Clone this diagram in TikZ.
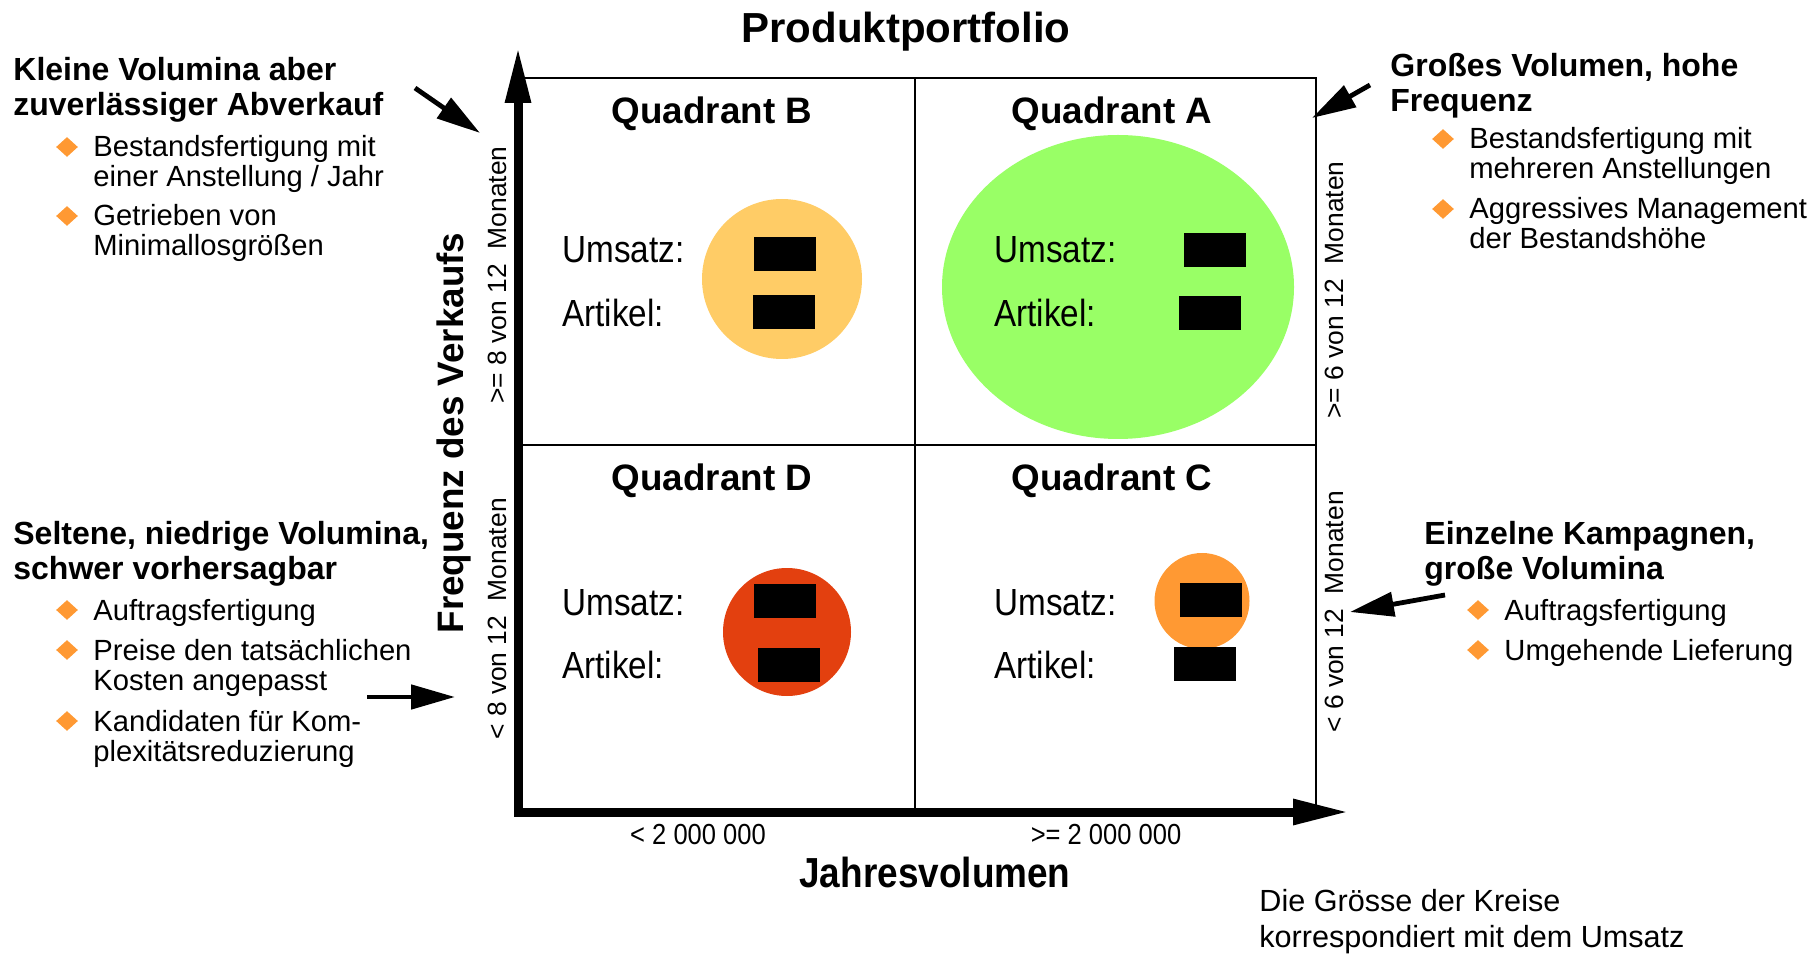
\documentclass[tikz,border=0pt]{standalone}
\usepackage{fontspec}
\setmainfont{Liberation Sans}
\newfontfamily\narrowfont[FakeStretch=0.88]{Liberation Sans}
\usepackage{tikz}
\usetikzlibrary{shapes}
\usetikzlibrary{arrows.meta}
\usetikzlibrary{positioning}
\definecolor{bubbleA}{rgb}{0.6,1,0.4}
\definecolor{bubbleB}{rgb}{1,0.8,0.4}
\definecolor{bubbleC}{rgb}{1,0.6,0.2}
\definecolor{bubbleD}{rgb}{0.89,0.25,0.06}
\definecolor{markOrange}{rgb}{1,0.6,0.2}
\tikzstyle{gridLine} = [line width=1.4pt]
\tikzstyle{axisArrow} = [line width=4.5pt, line join=miter,
        {Triangle[length=28pt, width=12pt]}-{Triangle[length=28pt, width=12pt]}]
\tikzstyle{calloutArrow} = [line width=2.4pt, -{Triangle[length=22pt, width=12pt]}]
\tikzstyle{bubble} = [ellipse, inner sep=0pt]
\tikzstyle{redact} = [fill=black, inner sep=0pt, minimum width=31pt, minimum height=17pt]
\tikzstyle{quadTitle} = [anchor=base, inner sep=0pt, font={\fontsize{18.4}{20}\selectfont\bfseries}]
\tikzstyle{fieldLabel} = [anchor=base west, inner sep=0pt, font={\fontsize{18.9}{20}\narrowfont}]
\tikzstyle{blockHead} = [anchor=base west, inner sep=0pt, align=left,
        font={\fontsize{16}{17.5}\selectfont\bfseries}]
\tikzstyle{pointText} = [anchor=base west, inner sep=0pt, align=left,
        font={\fontsize{14.6}{15}\selectfont}]
\tikzstyle{pointMark} = [diamond, fill=markOrange, inner sep=0pt, minimum width=11pt, minimum height=10pt]
\tikzstyle{monthLabel} = [rotate=90, inner sep=0pt, font={\fontsize{13.2}{14}\selectfont}]
\tikzstyle{volLabel} = [anchor=base, inner sep=0pt, font={\fontsize{14.5}{16}\narrowfont}]

\begin{document}
\begin{tikzpicture}[x=0.5pt, y=-0.5pt]
\useasboundingbox (0,0) rectangle (1814,956);
\node[anchor=base, inner sep=0pt, font={\fontsize{21}{24}\selectfont\bfseries}] (title) at (906,43) {Produktportfolio};

\node[bubble, fill=bubbleB, minimum width=80pt, minimum height=80pt] (bubB) at (782,279) {};
\node[bubble, fill=bubbleA, minimum width=176pt, minimum height=152pt] (bubA) at (1118,287) {};
\node[bubble, fill=bubbleD, minimum width=64pt, minimum height=64pt] (bubD) at (787,632) {};
\node[bubble, fill=bubbleC, minimum width=47.5pt, minimum height=48pt] (bubC) at (1202,601) {};

\coordinate (yTip) at (518,47);
\coordinate (origin) at (518,812);
\coordinate (xTip) at (1349,812);
\coordinate (topLeft) at (518,78);
\coordinate (topRight) at (1316,78);
\coordinate (botRight) at (1316,812);
\coordinate (topMid) at (915,78);
\coordinate (botMid) at (915,812);
\coordinate (midLeft) at (518,445);
\coordinate (midRight) at (1316,445);
\draw[gridLine] (topLeft) -- (topRight) -- (botRight);
\draw[gridLine] (topMid) -- (botMid);
\draw[gridLine] (midLeft) -- (midRight);
\draw[axisArrow] (yTip) -- (origin) -- (xTip);

\node[quadTitle] (quadB) at (712,124) {Quadrant B};
\node[quadTitle] (quadA) at (1112,124) {Quadrant A};
\node[quadTitle] (quadD) at (712,491) {Quadrant D};
\node[quadTitle] (quadC) at (1112,491) {Quadrant C};

\node[fieldLabel] (umsB) at (562,263) {Umsatz:};
\node[fieldLabel] (artB) at (562,327) {Artikel:};
\node[fieldLabel] (umsA) at (994,263) {Umsatz:};
\node[fieldLabel] (artA) at (994,327) {Artikel:};
\node[fieldLabel] (umsD) at (562,615) {Umsatz:};
\node[fieldLabel] (artD) at (562,678) {Artikel:};
\node[fieldLabel] (umsC) at (994,615) {Umsatz:};
\node[fieldLabel] (artC) at (994,678) {Artikel:};

\node[redact] (valUmsB) at (785,254) {};
\node[redact] (valArtB) at (784,312) {};
\node[redact] (valUmsA) at (1215,250) {};
\node[redact] (valArtA) at (1210,313) {};
\node[redact] (valUmsD) at (785,601) {};
\node[redact] (valArtD) at (789,665) {};
\node[redact] (valUmsC) at (1211,600) {};
\node[redact] (valArtC) at (1205,664) {};

\node[monthLabel] (monB) at (497,275) {>= 8 von 12~~Monaten};
\node[monthLabel] (monD) at (497,619) {< 8 von 12~~Monaten};
\node[monthLabel] (monA) at (1334,290) {>= 6 von 12~~Monaten};
\node[monthLabel] (monC) at (1334,612) {< 6 von 12~~Monaten};
\node[rotate=90, inner sep=0pt, font={\fontsize{18.4}{20}\selectfont\bfseries}] (freq) at (454,433) {Frequenz des Verkaufs};

\node[volLabel] (volLow) at (698,844) {< 2 000 000};
\node[volLabel] (volHigh) at (1106,844) {>= 2 000 000};
\node[anchor=base, inner sep=0pt, font={\fontsize{21}{24}\narrowfont\bfseries}] (jahr) at (935,887) {Jahresvolumen};
\node[anchor=base west, align=left, inner sep=0pt, font={\fontsize{15.3}{18}\selectfont}] (note) at (1259,947)
        {Die Grösse der Kreise\\korrespondiert mit dem Umsatz};

\node[blockHead] (kleine) at (13,116) {Kleine Volumina aber\\zuverlässiger Abverkauf};
\node[pointMark] (kleineM1) at (67,147) {};
\node[pointText] (kleineT1) at (93,187) {Bestandsfertigung mit\\einer Anstellung / Jahr};
\node[pointMark] (kleineM2) at (67,216) {};
\node[pointText] (kleineT2) at (93,256) {Getrieben von\\Minimallosgrößen};

\node[blockHead] (selten) at (13,580) {Seltene, niedrige Volumina,\\schwer vorhersagbar};
\node[pointMark] (seltenM1) at (67,610) {};
\node[pointText] (seltenT1) at (93,620) {Auftragsfertigung};
\node[pointMark] (seltenM2) at (67,650) {};
\node[pointText] (seltenT2) at (93,690) {Preise den tatsächlichen\\Kosten angepasst};
\node[pointMark] (seltenM3) at (67,721) {};
\node[pointText] (seltenT3) at (93,761) {Kandidaten für Kom-\\plexitätsreduzierung};

\node[blockHead] (gross) at (1390,112) {Großes Volumen, hohe\\Frequenz};
\node[pointMark] (grossM1) at (1443,139) {};
\node[pointText] (grossT1) at (1469,179) {Bestandsfertigung mit\\mehreren Anstellungen};
\node[pointMark] (grossM2) at (1443,209) {};
\node[pointText] (grossT2) at (1469,249) {Aggressives Management\\der Bestandshöhe};

\node[blockHead] (einzel) at (1424,580) {Einzelne Kampagnen,\\große Volumina};
\node[pointMark] (einzelM1) at (1478,610) {};
\node[pointText] (einzelT1) at (1504,620) {Auftragsfertigung};
\node[pointMark] (einzelM2) at (1478,650) {};
\node[pointText] (einzelT2) at (1504,660) {Umgehende Lieferung};

\coordinate (kleineFrom) at (415,88);
\coordinate (kleineTo) at (480,133);
\coordinate (grossFrom) at (1370,85);
\coordinate (grossTo) at (1312,118);
\coordinate (seltenFrom) at (367,697);
\coordinate (seltenTo) at (455,697);
\coordinate (einzelFrom) at (1445,595);
\coordinate (einzelTo) at (1350,612);
\draw[calloutArrow] (kleineFrom) -- (kleineTo);
\draw[calloutArrow] (grossFrom) -- (grossTo);
\draw[calloutArrow] (seltenFrom) -- (seltenTo);
\draw[calloutArrow] (einzelFrom) -- (einzelTo);
\end{tikzpicture}
\end{document}
